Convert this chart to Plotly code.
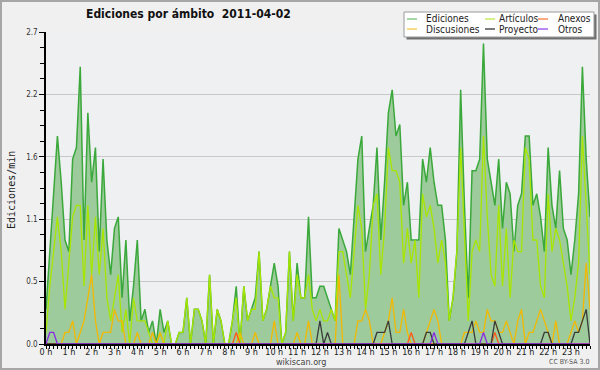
import plotly.graph_objects as go

# ---- data (edits per minute, 10-minute slots) ----
minutes = list(range(0, 1440, 10))
hour_ticks = list(range(0, 1440, 60))
hour_labels = [f"{h} h" for h in range(24)]
y_ticks = [0, 0.54, 1.08, 1.62, 2.16, 2.7]
y_labels = ["0.0", "0.5", "1.1", "1.6", "2.2", "2.7"]

ediciones = [
    0.3, 0.8, 1.3, 1.8, 1.4, 0.9, 0.8, 1.6, 1.7, 2.4, 0.9, 2.0,
    1.4, 1.7, 0.8, 1.6, 0.9, 0.6, 1.0, 1.1, 0.4, 0.9, 0.2, 0.5,
    0.9, 0.2, 0.3, 0.1, 0.2, 0.0, 0.3, 0.1, 0.2, 0.0, 0.0, 0.1,
    0.1, 0.4, 0.0, 0.3, 0.3, 0.2, 0.0, 0.6, 0.0, 0.3, 0.2, 0.0,
    0.0, 0.2, 0.5, 0.0, 0.5, 0.2, 0.3, 0.4, 0.8, 0.2, 0.3, 0.5,
    0.7, 0.5, 0.0, 0.1, 0.8, 0.2, 0.7, 0.4, 0.4, 1.1, 0.4, 0.4,
    0.5, 0.5, 0.4, 0.3, 0.2, 1.0, 0.9, 0.8, 0.6, 1.1, 1.6, 1.8,
    0.8, 1.0, 1.2, 1.7, 0.9, 1.4, 2.0, 2.2, 1.8, 1.9, 1.2, 1.4,
    0.9, 0.9, 0.9, 1.6, 1.4, 1.7, 1.4, 1.2, 1.2, 0.9, 0.2, 0.4,
    0.8, 2.2, 1.2, 0.4, 1.5, 1.5, 1.6, 2.6, 1.6, 1.4, 1.2, 1.6,
    1.0, 1.4, 1.3, 0.8, 1.2, 1.3, 1.8, 1.8, 1.2, 1.3, 1.1, 0.8,
    1.7, 1.2, 1.0, 1.5, 1.0, 0.9, 0.6, 0.9, 1.3, 2.4, 1.6, 1.1,
]
articulos = [
    0.1, 0.5, 0.8, 1.1, 0.8, 0.3, 0.7, 1.1, 1.2, 1.2, 0.5, 1.2,
    0.6, 1.1, 0.6, 1.0, 0.4, 0.2, 0.4, 0.6, 0.1, 0.3, 0.0, 0.4,
    0.2, 0.2, 0.2, 0.1, 0.0, 0.0, 0.1, 0.0, 0.2, 0.0, 0.0, 0.1,
    0.1, 0.4, 0.0, 0.3, 0.3, 0.2, 0.0, 0.6, 0.0, 0.3, 0.2, 0.0,
    0.0, 0.2, 0.4, 0.0, 0.5, 0.2, 0.3, 0.3, 0.8, 0.2, 0.3, 0.5,
    0.4, 0.4, 0.0, 0.1, 0.8, 0.2, 0.6, 0.4, 0.4, 0.6, 0.3, 0.2,
    0.3, 0.2, 0.2, 0.3, 0.2, 0.8, 0.8, 0.6, 0.4, 0.8, 1.2, 1.0,
    0.3, 0.6, 1.2, 1.3, 0.6, 1.0, 1.7, 1.5, 1.5, 1.4, 0.7, 1.0,
    0.7, 0.9, 0.4, 1.3, 1.1, 1.2, 1.0, 0.7, 0.9, 0.7, 0.2, 0.4,
    0.8, 1.7, 1.0, 0.2, 0.8, 0.9, 0.8, 1.8, 1.1, 0.6, 0.5, 1.2,
    0.5, 1.0, 0.4, 0.9, 0.8, 0.8, 1.7, 1.6, 0.9, 0.9, 0.5, 0.4,
    1.3, 0.8, 1.0, 0.9, 0.7, 0.5, 0.2, 0.4, 0.7, 1.8, 1.2, 0.6,
]
discusiones = [
    0.0, 0.0, 0.0, 0.0, 0.0, 0.1, 0.1, 0.2, 0.0, 0.1, 0.2, 0.4,
    0.6, 0.2, 0.0, 0.1, 0.1, 0.1, 0.3, 0.2, 0.2, 0.0, 0.0, 0.0,
    0.1, 0.0, 0.0, 0.0, 0.1, 0.0, 0.1, 0.0, 0.0, 0.0, 0.0, 0.0,
    0.0, 0.0, 0.0, 0.0, 0.0, 0.0, 0.0, 0.0, 0.0, 0.0, 0.0, 0.0,
    0.0, 0.0, 0.0, 0.1, 0.0, 0.0, 0.0, 0.1, 0.0, 0.0, 0.0, 0.0,
    0.2, 0.0, 0.0, 0.0, 0.0, 0.0, 0.1, 0.0, 0.0, 0.2, 0.0, 0.0,
    0.0, 0.0, 0.0, 0.0, 0.0, 0.6, 0.0, 0.0, 0.0, 0.0, 0.2, 0.2,
    0.3, 0.2, 0.0, 0.0, 0.0, 0.1, 0.2, 0.4, 0.1, 0.1, 0.3, 0.1,
    0.0, 0.0, 0.0, 0.0, 0.1, 0.2, 0.3, 0.2, 0.0, 0.0, 0.0, 0.0,
    0.0, 0.0, 0.1, 0.1, 0.1, 0.2, 0.1, 0.1, 0.3, 0.2, 0.2, 0.1,
    0.1, 0.2, 0.1, 0.0, 0.2, 0.3, 0.0, 0.1, 0.1, 0.2, 0.3, 0.2,
    0.1, 0.0, 0.2, 0.0, 0.0, 0.0, 0.1, 0.2, 0.1, 0.2, 0.7, 0.3,
]
anexos = [
    0.0, 0.0, 0.0, 0.0, 0.0, 0.0, 0.0, 0.0, 0.0, 0.0, 0.0, 0.0,
    0.0, 0.0, 0.0, 0.0, 0.0, 0.0, 0.0, 0.0, 0.0, 0.0, 0.0, 0.0,
    0.0, 0.0, 0.0, 0.0, 0.0, 0.0, 0.0, 0.0, 0.0, 0.0, 0.0, 0.0,
    0.0, 0.0, 0.0, 0.0, 0.0, 0.0, 0.0, 0.0, 0.0, 0.0, 0.0, 0.0,
    0.0, 0.0, 0.1, 0.0, 0.0, 0.0, 0.0, 0.0, 0.0, 0.0, 0.0, 0.0,
    0.0, 0.0, 0.0, 0.0, 0.0, 0.0, 0.0, 0.0, 0.0, 0.0, 0.0, 0.0,
    0.0, 0.0, 0.0, 0.0, 0.0, 0.0, 0.0, 0.0, 0.0, 0.0, 0.0, 0.0,
    0.0, 0.0, 0.0, 0.0, 0.0, 0.0, 0.0, 0.0, 0.0, 0.0, 0.0, 0.0,
    0.1, 0.0, 0.0, 0.0, 0.0, 0.0, 0.0, 0.0, 0.0, 0.0, 0.0, 0.0,
    0.0, 0.0, 0.0, 0.0, 0.0, 0.0, 0.0, 0.0, 0.0, 0.0, 0.1, 0.0,
    0.0, 0.0, 0.0, 0.0, 0.0, 0.0, 0.0, 0.0, 0.0, 0.0, 0.0, 0.0,
    0.0, 0.0, 0.0, 0.0, 0.0, 0.0, 0.0, 0.0, 0.0, 0.0, 0.0, 0.0,
]
proyecto = [
    0.0, 0.0, 0.0, 0.0, 0.0, 0.0, 0.0, 0.0, 0.0, 0.0, 0.0, 0.0,
    0.0, 0.0, 0.0, 0.0, 0.0, 0.0, 0.0, 0.0, 0.0, 0.0, 0.0, 0.0,
    0.0, 0.0, 0.0, 0.0, 0.0, 0.0, 0.0, 0.0, 0.0, 0.0, 0.0, 0.0,
    0.0, 0.0, 0.0, 0.0, 0.0, 0.0, 0.0, 0.0, 0.0, 0.0, 0.0, 0.0,
    0.0, 0.0, 0.0, 0.0, 0.0, 0.0, 0.0, 0.0, 0.0, 0.0, 0.0, 0.0,
    0.0, 0.0, 0.0, 0.0, 0.0, 0.0, 0.0, 0.0, 0.0, 0.0, 0.0, 0.0,
    0.2, 0.0, 0.1, 0.0, 0.0, 0.0, 0.0, 0.0, 0.0, 0.0, 0.0, 0.0,
    0.0, 0.0, 0.0, 0.1, 0.1, 0.1, 0.2, 0.0, 0.0, 0.0, 0.0, 0.0,
    0.0, 0.0, 0.0, 0.0, 0.1, 0.1, 0.0, 0.0, 0.0, 0.0, 0.0, 0.0,
    0.0, 0.0, 0.0, 0.1, 0.2, 0.0, 0.0, 0.0, 0.0, 0.0, 0.2, 0.1,
    0.0, 0.0, 0.0, 0.0, 0.0, 0.0, 0.0, 0.0, 0.0, 0.0, 0.0, 0.1,
    0.1, 0.0, 0.0, 0.0, 0.0, 0.0, 0.0, 0.1, 0.1, 0.2, 0.3, 0.0,
]
otros = [
    0.0, 0.1, 0.1, 0.0, 0.0, 0.0, 0.0, 0.0, 0.0, 0.0, 0.0, 0.0,
    0.0, 0.0, 0.0, 0.0, 0.0, 0.0, 0.0, 0.0, 0.0, 0.0, 0.0, 0.0,
    0.0, 0.0, 0.0, 0.0, 0.0, 0.0, 0.0, 0.0, 0.0, 0.0, 0.0, 0.0,
    0.0, 0.0, 0.0, 0.0, 0.0, 0.0, 0.0, 0.0, 0.0, 0.0, 0.0, 0.0,
    0.0, 0.0, 0.0, 0.0, 0.0, 0.0, 0.0, 0.0, 0.0, 0.0, 0.0, 0.0,
    0.0, 0.0, 0.0, 0.0, 0.0, 0.0, 0.0, 0.0, 0.0, 0.0, 0.0, 0.0,
    0.0, 0.0, 0.0, 0.0, 0.0, 0.0, 0.0, 0.0, 0.0, 0.0, 0.0, 0.0,
    0.0, 0.0, 0.0, 0.0, 0.0, 0.0, 0.0, 0.0, 0.0, 0.0, 0.0, 0.0,
    0.0, 0.0, 0.0, 0.0, 0.0, 0.0, 0.1, 0.0, 0.0, 0.0, 0.0, 0.0,
    0.0, 0.0, 0.0, 0.0, 0.0, 0.0, 0.0, 0.1, 0.0, 0.0, 0.0, 0.0,
    0.0, 0.0, 0.0, 0.0, 0.0, 0.0, 0.0, 0.0, 0.0, 0.0, 0.0, 0.0,
    0.0, 0.0, 0.0, 0.0, 0.0, 0.0, 0.0, 0.0, 0.0, 0.0, 0.0, 0.0,
]

series = [
    ("Ediciones", ediciones, "#3aa83a", "#88cc88"),
    ("Artículos", articulos, "#a8e600", "#c8ec60"),
    ("Discusiones", discusiones, "#f2b800", "#f8d060"),
    ("Anexos", anexos, "#ff5a1a", "#ff8a5a"),
    ("Proyecto", proyecto, "#3a3a3a", "#505050"),
    ("Otros", otros, "#8a2be2", "#a060f0"),
]

# ---- layout geometry (pixels) ----
W, H = 600, 370
L, R, T, B = 46, 10, 32, 26
PW, PH = W - L - R, H - T - B


def px(x):
    return (x - L) / PW


def py(y):
    return 1 - (y - T) / PH


FONT = "DejaVu Sans Condensed, DejaVu Sans, sans-serif"

fig = go.Figure()
for k, (name, vals, col, _) in enumerate(series):
    if k == 0:
        fig.add_trace(go.Scatter(x=minutes, y=vals, name=name, mode="lines",
                                 line=dict(color=col, width=1.5),
                                 fill="tozeroy", fillcolor="#9ecb9c",
                                 showlegend=False))
    else:
        fig.add_trace(go.Scatter(x=minutes, y=vals, name=name, mode="lines",
                                 line=dict(color=col, width=1.3),
                                 showlegend=False))

shapes = []
annotations = []

# outer frame
shapes.append(dict(type="rect", xref="paper", yref="paper",
                   x0=px(1), x1=px(W - 1), y0=py(1), y1=py(H - 1),
                   line=dict(color="#a6a6a6", width=2), layer="above"))

# legend box with shadow
shapes.append(dict(type="rect", xref="paper", yref="paper",
                   x0=px(406.5), x1=px(596.5), y0=py(14.5), y1=py(39.5),
                   fillcolor="#707070", line=dict(width=0), layer="above"))
shapes.append(dict(type="rect", xref="paper", yref="paper",
                   x0=px(404), x1=px(594), y0=py(12), y1=py(37),
                   fillcolor="white", line=dict(color="#9a9a9a", width=1), layer="above"))

leg_pos = {
    "Ediciones": (407, 424, 19),
    "Artículos": (485, 497, 19),
    "Anexos": (538, 556, 19),
    "Discusiones": (407, 424, 29),
    "Proyecto": (485, 497, 29),
    "Otros": (538, 556, 29),
}
for name, vals, col, lcol in series:
    sx, tx, yy = leg_pos[name]
    shapes.append(dict(type="line", xref="paper", yref="paper",
                       x0=px(sx), x1=px(sx + 10), y0=py(yy), y1=py(yy),
                       line=dict(color=lcol, width=1.5), layer="above"))
    annotations.append(dict(text=name, xref="paper", yref="paper",
                            x=px(tx), y=py(yy), xanchor="left", yanchor="middle",
                            showarrow=False, font=dict(family=FONT, size=10, color="#222")))

annotations += [
    dict(text="Ediciones por ámbito\u00a0\u00a02011-04-02", xref="paper", yref="paper",
         x=px(188), y=py(14), xanchor="center", yanchor="middle", showarrow=False,
         font=dict(family=FONT, size=12, color="#111", weight="bold")),
    dict(text="Ediciones/min", xref="paper", yref="paper", x=px(11), y=py(190),
         xanchor="center", yanchor="middle", textangle=-90, showarrow=False,
         font=dict(family="DejaVu Sans Mono, monospace", size=10, color="#222")),
    dict(text="wikiscan.org", xref="paper", yref="paper", x=px(301), y=py(362),
         xanchor="center", yanchor="middle", showarrow=False,
         font=dict(family=FONT, size=9, color="#444")),
    dict(text="CC BY-SA 3.0", xref="paper", yref="paper", x=px(569), y=py(362),
         xanchor="center", yanchor="middle", showarrow=False,
         font=dict(family=FONT, size=7, color="#555")),
]

fig.update_layout(
    width=W, height=H,
    margin=dict(l=L, r=R, t=T, b=B, pad=0),
    paper_bgcolor="#f0f0f0", plot_bgcolor="#eef0f2",
    shapes=shapes, annotations=annotations,
    showlegend=False,
    xaxis=dict(range=[0, 1430], showgrid=False, zeroline=False,
               showline=True, linecolor="black", linewidth=2,
               tickmode="array", tickvals=hour_ticks, ticktext=hour_labels,
               ticks="outside", ticklen=3, tickwidth=1, tickcolor="black",
               ticklabelstandoff=-5,
               tickfont=dict(family=FONT, size=9, color="#222"),
               minor=dict(ticks="outside", dtick=10, tick0=0, ticklen=3,
                          tickwidth=1, tickcolor="black", showgrid=False)),
    yaxis=dict(range=[0, 2.7], showgrid=True, gridcolor="#c8c8c8", gridwidth=1,
               zeroline=False, showline=True, linecolor="black", linewidth=1.5,
               tickmode="array", tickvals=y_ticks, ticktext=y_labels,
               ticks="outside", ticklen=5, tickwidth=1, tickcolor="black",
               tickfont=dict(family=FONT, size=8, color="#333"),
               minor=dict(ticks="outside", dtick=0.135, tick0=0, ticklen=4,
                          tickwidth=1, tickcolor="black", showgrid=False)),
)

fig.write_html("out.html", config={"displayModeBar": False},
               post_script="document.body.style.margin='0';document.body.style.overflow='hidden';")
